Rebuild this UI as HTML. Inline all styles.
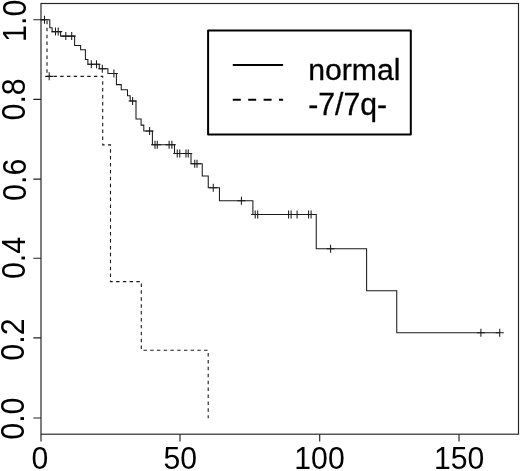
<!DOCTYPE html>
<html><head><meta charset="utf-8"><title>Survival plot</title>
<style>html,body{margin:0;padding:0;background:#fff}svg{display:block}</style></head>
<body>
<svg width="520" height="471" viewBox="0 0 520 471">
<rect width="520" height="471" fill="#fff"/>
<g fill="none" stroke="#222" stroke-width="1.15">
<rect x="41" y="3.5" width="477.5" height="430.7"/>
<path d="M33.3,417.95H41M33.3,337.90H41M33.3,258.25H41M33.3,179.10H41M33.3,99.30H41M33.3,19.70H41M41,434.2V441.5M180,434.2V441.5M319.7,434.2V441.5M459.0,434.2V441.5"/>
<path d="M41,19.7 H49.8 V27.70 H52.1 V31.60 H60.6 V36.10 H74.6 V45.55 H80.6 V49.80 H85.4 V59.50 H87.9 V64.20 H99.3 V68.80 H107.9 V73.40 H116.4 V84.60 H121.25 V89.70 H127.5 V95.80 H130.2 V100.90 H136 V119.05 H141.1 V125.10 H143.8 V130.90 H152.4 V144.70 H174.5 V153.40 H191 V163.80 H202.25 V175.90 H208.25 V187.80 H219.45 V200.70 H252.9 V214.50 H316.25 V248.70 H366.6 V290.70 H396.75 V332.80 H499.75" stroke="#1a1a1a" stroke-width="1.05"/>
<path d="M40.50,19.7h8.0M44.5,15.70v8.0M51.50,31.6h8.0M55.5,27.60v8.0M54.20,31.6h8.0M58.2,27.60v8.0M61.80,36.1h8.0M65.8,32.10v8.0M67.70,36.1h8.0M71.7,32.10v8.0M87.30,64.2h8.0M91.3,60.20v8.0M92.50,64.2h8.0M96.5,60.20v8.0M98.30,68.8h8.0M102.3,64.80v8.0M109.90,73.4h8.0M113.9,69.40v8.0M128.60,100.9h8.0M132.6,96.90v8.0M145.60,130.9h8.0M149.6,126.90v8.0M151.00,144.7h8.0M155,140.70v8.0M153.25,144.7h8.0M157.25,140.70v8.0M165.10,144.7h8.0M169.1,140.70v8.0M167.90,144.7h8.0M171.9,140.70v8.0M173.25,153.4h8.0M177.25,149.40v8.0M175.75,153.4h8.0M179.75,149.40v8.0M182.00,153.4h8.0M186,149.40v8.0M184.25,153.4h8.0M188.25,149.40v8.0M190.75,163.8h8.0M194.75,159.80v8.0M193.00,163.8h8.0M197,159.80v8.0M209.25,187.8h8.0M213.25,183.80v8.0M237.40,200.7h8.0M241.4,196.70v8.0M251.20,214.5h8.0M255.2,210.50v8.0M253.70,214.5h8.0M257.7,210.50v8.0M284.60,214.5h8.0M288.6,210.50v8.0M287.10,214.5h8.0M291.1,210.50v8.0M293.10,214.5h8.0M297.1,210.50v8.0M304.60,214.5h8.0M308.6,210.50v8.0M307.10,214.5h8.0M311.1,210.50v8.0M326.60,248.7h8.0M330.6,244.70v8.0M476.90,332.8h8.0M480.9,328.80v8.0M495.75,332.8h8.0M499.75,328.80v8.0M45.20,76.35h8.0M49.2,72.35v8.0" stroke="#1a1a1a" stroke-width="1.05"/>
<g transform="scale(1,1.025)"><path d="M41,19.220 H47 V74.488 H102.7 V141.366 H110.5 V274.732 H141.3 V341.756 H208.2 V408.000" stroke="#1a1a1a" stroke-width="1.1" stroke-dasharray="3.4 3.34" stroke-dashoffset="-0.38"/></g>
</g>
<g fill="none" stroke="#000">
<rect x="208.1" y="30.4" width="202.7" height="104.1" stroke-width="2" stroke-linejoin="round"/>
<path d="M232.8,65H283.1" stroke-width="1.9"/>
<path d="M232.8,99.7H283.1" stroke-width="1.9" stroke-dasharray="8 7.4"/>
</g>
<g font-family="'Liberation Sans', Arial, Helvetica, sans-serif" fill="#000">
<text transform="translate(308.15,80.3) scale(1.023,1)" font-size="29.5" stroke="#000" stroke-width="0.3">normal</text>
<text transform="translate(308.2,115.4) scale(0.975,1)" font-size="31" stroke="#000" stroke-width="0.3">-7/7q-</text>
<text transform="translate(39.8,469.1) scale(0.95,1)" font-size="31.8" text-anchor="middle">0</text>
<text transform="translate(180.2,469.1) scale(0.95,1)" font-size="31.8" text-anchor="middle">50</text>
<text transform="translate(319.5,469.1) scale(0.95,1)" font-size="31.8" text-anchor="middle">100</text>
<text transform="translate(459.2,469.1) scale(0.95,1)" font-size="31.8" text-anchor="middle">150</text>
<text transform="translate(23.7,418.65) scale(1.12,1) rotate(-90)" font-size="30.4" text-anchor="middle">0.0</text>
<text transform="translate(23.6,339.60) scale(1.12,1) rotate(-90)" font-size="30.4" text-anchor="middle">0.2</text>
<text transform="translate(25.1,257.95) scale(1.12,1) rotate(-90)" font-size="30.4" text-anchor="middle">0.4</text>
<text transform="translate(25.5,179.80) scale(1.12,1) rotate(-90)" font-size="30.4" text-anchor="middle">0.6</text>
<text transform="translate(25.1,99.40) scale(1.12,1) rotate(-90)" font-size="30.4" text-anchor="middle">0.8</text>
<text transform="translate(26.4,20.80) scale(1.12,1) rotate(-90)" font-size="30.4" text-anchor="middle">1.0</text>
</g></svg>
</body></html>
